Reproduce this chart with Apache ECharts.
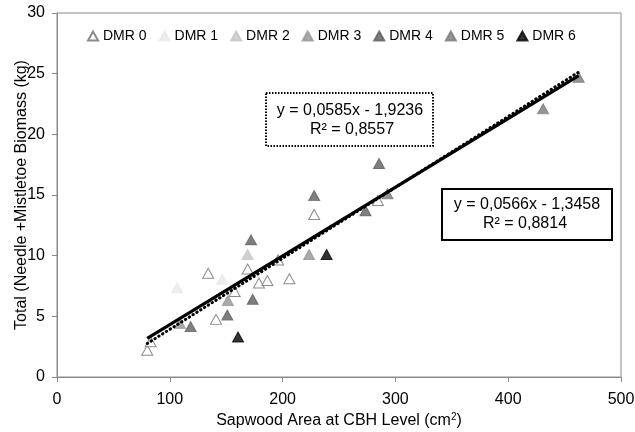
<!DOCTYPE html>
<html>
<head>
<meta charset="utf-8">
<title>DMR biomass</title>
<script src="https://cdn.jsdelivr.net/npm/echarts@6/dist/echarts.min.js"></script>
<style>
  html, body { margin: 0; padding: 0; background: #fff; }
  #chart { width: 635px; height: 432px; }
</style>
</head>
<body>
<div id="chart"></div>
<script>
// sapwood area (cm2), total biomass (kg) per dwarf mistletoe rating class
var dmr0 = [[80, 2.2], [83, 2.9], [134, 8.55], [141, 4.75], [157.5, 7.05], [169, 8.9],
            [179, 7.75], [186.5, 7.95], [196, 9.65], [206, 8.1], [228, 13.4], [284.5, 14.55]];
var dmr1 = [[106.5, 7.35], [146.5, 8.05]];
var dmr2 = [[169, 10.1]];
var dmr3 = [[109, 4.4], [151.5, 6.3], [223.5, 10.1]];
var dmr4 = [[118.5, 4.15], [151, 5.1], [172, 11.3], [173.5, 6.4], [228, 14.95], [273.5, 13.7], [285.5, 17.6]];
var dmr5 = [[293, 15.1], [431, 22.1], [462.5, 24.7]];
var dmr6 = [[160.5, 3.3], [239, 10.1]];

// trend line end points (all data / without DMR 6)
var trendSolid = [[80, 3.18], [462.5, 24.83]];
var trendDotted = [[80, 2.76], [462.5, 25.13]];

var eqDotted = ['y = 0,0585x - 1,9236', 'R² = 0,8557'];
var eqSolid = ['y = 0,0566x - 1,3458', 'R² = 0,8814'];

var font = 'Liberation Sans, Arial, sans-serif';

function pts(name, data, fill, border){
    return {
        name: name,
        type: 'scatter',
        symbol: 'triangle',
        symbolSize: [11, 10],
        data: data,
        z: 3,
        itemStyle: { color: fill, borderColor: border, borderWidth: 1 }
    };
}

// one centered line of equation text
function eqText(txt, x, y){
    return {
        type: 'text', x: x, y: y, z: 11,
        style: { text: txt, align: 'center', verticalAlign: 'middle', font: '16px ' + font, fill: '#000' }
    };
}

var myChart = echarts.init(document.getElementById('chart'));
var option = {
    animation: false,
    textStyle: { fontFamily: font },
    grid: {
        left: 57, right: 14, top: 13, bottom: 55,
        outerBoundsMode: 'none',
        containLabel: false,
        show: true, borderColor: '#8a8a8a', borderWidth: 1
    },
    legend: {
        top: 24,
        left: 82,
        itemGap: 12,
        itemWidth: 10,
        itemHeight: 9,
        textStyle: { fontSize: 14, color: '#000', fontFamily: font },
        data: ['DMR 0', 'DMR 1', 'DMR 2', 'DMR 3', 'DMR 4', 'DMR 5', 'DMR 6']
    },
    xAxis: {
        type: 'value', min: 0, max: 500, interval: 100,
        name: 'Sapwood Area at CBH Level (cm{sup|2})',
        nameLocation: 'middle', nameGap: 35,
        nameMoveOverlap: false,
        nameTextStyle: {
            fontSize: 16, color: '#000', fontFamily: font,
            rich: { sup: { fontSize: 10, verticalAlign: 'top', padding: [0, 0, 8, 0], color: '#000', fontFamily: font } }
        },
        axisLine: { lineStyle: { color: '#8a8a8a' } },
        axisTick: { inside: false, length: 5, lineStyle: { color: '#8a8a8a' } },
        axisLabel: { fontSize: 16, color: '#000', margin: 15 },
        splitLine: { show: false }
    },
    yAxis: {
        type: 'value', min: 0, max: 30, interval: 5,
        name: 'Total (Needle +Mistletoe Biomass (kg)',
        nameLocation: 'middle', nameGap: 27,
        nameMoveOverlap: false,
        nameTextStyle: { fontSize: 16, color: '#000', fontFamily: font },
        axisLine: { show: true, lineStyle: { color: '#8a8a8a' } },
        axisTick: { show: true, length: 5, lineStyle: { color: '#8a8a8a' } },
        axisLabel: { fontSize: 16, color: '#000', margin: 12 },
        splitLine: { show: false }
    },
    series: [
        pts('DMR 0', dmr0, '#ffffff', '#6e6e6e'),
        pts('DMR 1', dmr1, '#e8e8e8', '#e8e8e8'),
        pts('DMR 2', dmr2, '#c4c4c4', '#c4c4c4'),
        pts('DMR 3', dmr3, '#959595', '#959595'),
        pts('DMR 4', dmr4, '#5e5e5e', '#5e5e5e'),
        pts('DMR 5', dmr5, '#7a7a7a', '#7a7a7a'),
        pts('DMR 6', dmr6, '#000000', '#000000'),
        {
            name: 'trend all', type: 'line', data: trendSolid, showSymbol: false, z: 4,
            lineStyle: { color: '#000', width: 3.2 }
        },
        {
            name: 'trend dotted', type: 'line', data: trendDotted, showSymbol: false, z: 4,
            lineStyle: { color: '#000', width: 3, type: [0.5, 4], cap: 'round' }
        }
    ],
    graphic: [
        {
            type: 'rect', left: 265, top: 92,
            shape: { width: 167, height: 53 },
            style: { fill: '#fff', stroke: '#000', lineWidth: 2, lineDash: [1.5, 1.5] },
            z: 10
        },
        eqText(eqDotted[0], 350, 111),
        eqText(eqDotted[1], 352, 130),
        {
            type: 'rect', left: 441, top: 188,
            shape: { width: 170, height: 51 },
            style: { fill: '#fff', stroke: '#000', lineWidth: 2 },
            z: 10
        },
        eqText(eqSolid[0], 527, 205),
        eqText(eqSolid[1], 525, 224)
    ]
};
myChart.setOption(option);
</script>
</body>
</html>
